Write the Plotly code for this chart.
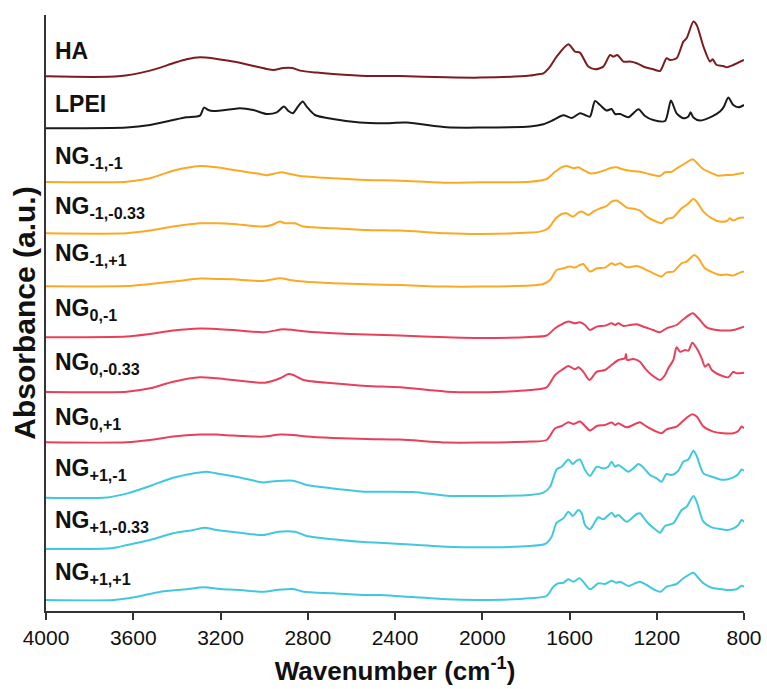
import plotly.graph_objects as go

# ---------------- data ----------------
names = ["HA", "LPEI", "NG<sub>-1,-1</sub>", "NG<sub>-1,-0.33</sub>", "NG<sub>-1,+1</sub>",
         "NG<sub>0,-1</sub>", "NG<sub>0,-0.33</sub>", "NG<sub>0,+1</sub>",
         "NG<sub>+1,-1</sub>", "NG<sub>+1,-0.33</sub>", "NG<sub>+1,+1</sub>"]

wn_HA = [4000, 3668, 3523, 3417, 3356, 3294, 3142, 2988, 2958, 2912, 2870, 2835, 2759, 2684, 2530, 2377, 2163, 2010, 1781, 1735,
         1720, 1689, 1659, 1605, 1575, 1552, 1514, 1483, 1445, 1414, 1399, 1381, 1353, 1323, 1292, 1254, 1216, 1185, 1155, 1139,
         1109, 1078, 1063, 1032, 1017, 986, 956, 944, 925, 895, 879, 849, 800]
ab_HA = [0, 0, 5.7, 13, 17, 19, 14.7, 7.3, 6.3, 8.3, 8.3, 5.7, 3.7, 2.3, 0.3, 0.3, -1, -1.3, 0.7, 2.3,
         3, 9.7, 19.7, 32, 24.7, 23.7, 9.7, 7, 9.7, 21.3, 19.7, 21.3, 14.7, 14.7, 13, 9, 7, 5.3, 18, 16.3,
         18, 34.7, 38, 54.7, 51.3, 29.7, 14.7, 17, 11.3, 10.3, 9, 11.3, 16.3]

wn_LPEI = [4000, 3630, 3523, 3417, 3356, 3294, 3276, 3256, 3233, 3142, 3111, 3050, 2988, 2942, 2909, 2889, 2869, 2843, 2823, 2805,
           2767, 2684, 2561, 2454, 2346, 2163, 2010, 1781, 1720, 1674, 1628, 1590, 1552, 1529, 1506, 1483, 1460, 1430, 1407, 1391,
           1368, 1330, 1284, 1254, 1216, 1162, 1135, 1109, 1078, 1055, 1045, 1032, 1002, 948, 910, 892, 872, 849, 826, 800]
ab_LPEI = [0, 0.7, 3.3, 8.3, 11, 12.7, 20.7, 18.3, 17.3, 19.3, 20, 18.3, 14.3, 16, 21.7, 17.3, 15, 22.3, 26.7, 21.7,
           13.3, 9.3, 5.7, 5, 5.7, 1, 0.7, 1.7, 4, 8.3, 13, 10.3, 15, 13.3, 11.7, 27.3, 23.3, 17.7, 19.3, 14.3,
           14.3, 11, 19, 12.3, 8.3, 7.3, 27.7, 15, 10, 11.7, 16, 10.7, 7.7, 11.7, 16.7, 21.7, 30.7, 23.3, 21, 23.3]

wn_m1_m1 = [4000, 3630, 3523, 3417, 3294, 3218, 3142, 3019, 2988, 2922, 2881, 2835, 2684, 2530, 2377, 2163, 2010, 1781, 1705, 1666,
            1636, 1613, 1582, 1559, 1537, 1506, 1475, 1445, 1407, 1384, 1361, 1323, 1277, 1231, 1185, 1162, 1132, 1101, 1075, 1035,
            1017, 986, 956, 918, 879, 849, 800]
ab_m1_m1 = [0, 0.3, 3.7, 11.3, 16, 14.7, 12, 8, 6.7, 9.7, 8, 6, 3.7, 2, 1.3, -0.7, -0.3, 0.3, 3, 10.3,
            14.7, 16, 13.7, 14.7, 12, 8.7, 9.3, 11.3, 14.3, 14.7, 13, 11.3, 10.3, 7.7, 6, 9.7, 10.3, 14.7, 18, 22.7,
            19.3, 12.7, 9.7, 6.3, 7, 7.3, 9.3]

wn_m1_m033 = [4000, 3630, 3523, 3417, 3294, 3218, 3142, 3004, 2965, 2927, 2904, 2858, 2820, 2684, 2530, 2377, 2163, 2010, 1781, 1735,
              1697, 1666, 1636, 1613, 1585, 1559, 1544, 1514, 1491, 1460, 1430, 1407, 1384, 1368, 1338, 1300, 1277, 1246, 1208, 1178,
              1155, 1124, 1086, 1063, 1032, 1017, 986, 948, 910, 879, 864, 849, 826, 800]
ab_m1_m033 = [0, 0, 2.7, 6.7, 10, 10, 9.3, 6.7, 8.3, 11.7, 10, 10, 6.7, 5, 3.3, 2.7, 0, -0.7, 0.7, 1.7,
              5, 14, 19.3, 20, 16.7, 20.7, 21.7, 18.3, 21.7, 25, 27.3, 31.7, 32.7, 30.7, 25.7, 24.3, 22.7, 16.7, 12.3, 10,
              14.3, 16, 25, 28.3, 34.3, 31.7, 21.7, 15, 11.7, 12.3, 15, 12.7, 15, 15.7]

wn_m1_p1 = [4000, 3630, 3523, 3417, 3294, 3218, 3142, 3004, 2927, 2881, 2820, 2684, 2530, 2377, 2163, 2010, 1781, 1720, 1689, 1659,
            1628, 1598, 1575, 1552, 1537, 1506, 1475, 1437, 1407, 1391, 1368, 1338, 1292, 1262, 1216, 1178, 1155, 1124, 1086, 1063,
            1028, 1009, 979, 941, 910, 879, 849, 818, 800]
ab_m1_p1 = [0, 0.3, 2.3, 4.7, 7.7, 7.3, 7, 5.3, 8, 6.3, 4.7, 3, 2, 1.3, -0.3, -0.3, 0.7, 2.3, 6.3, 16.3,
            18, 19.7, 18.7, 21.3, 22.3, 14.7, 18, 18.7, 23, 21.3, 23, 19, 20.3, 18, 13, 9.7, 14, 14.7, 23, 24.7,
            31.3, 28, 18, 13.7, 11.3, 11.7, 10.7, 13.7, 14.7]

wn_0_m1 = [4000, 3630, 3523, 3417, 3294, 3218, 3142, 3004, 2912, 2866, 2805, 2684, 2530, 2377, 2163, 2010, 1781, 1705, 1666, 1636,
           1605, 1575, 1552, 1529, 1506, 1475, 1437, 1407, 1391, 1376, 1353, 1323, 1292, 1254, 1216, 1185, 1155, 1109, 1078, 1035,
           1009, 971, 925, 879, 849, 800]
ab_0_m1 = [0, 0.7, 3.3, 6.7, 8.7, 8.3, 7.3, 5, 8, 7.3, 5.7, 4, 2.7, 1.7, 0, -0.7, 0.3, 1.8, 9, 13,
           15.7, 14, 15, 12.3, 7.3, 10.7, 11.7, 14, 12.3, 14, 11.3, 12.3, 13, 10, 7.3, 5, 9, 12.3, 18, 24,
           19, 10, 7.3, 6.7, 7.3, 10.7]

wn_0_m033 = [4000, 3630, 3523, 3417, 3294, 3218, 3142, 2996, 2927, 2889, 2866, 2820, 2684, 2530, 2377, 2163, 2010, 1781, 1705, 1666,
             1636, 1605, 1575, 1559, 1537, 1509, 1475, 1437, 1407, 1376, 1346, 1341, 1336, 1307, 1277, 1254, 1223, 1185, 1162, 1147,
             1124, 1109, 1093, 1070, 1055, 1037, 1017, 994, 979, 963, 948, 910, 872, 849, 834, 800]
ab_0_m033 = [0, 0.3, 3.7, 10.3, 14.7, 13.7, 12, 9.3, 13.7, 18, 17, 12, 8.7, 6, 4.7, 0.3, -0.3, 2, 4.7, 17,
             22, 26, 22.7, 24.7, 20.3, 12, 20.3, 22, 27, 32, 33.7, 38, 32, 33, 30.3, 23.7, 17, 12, 17, 23.7,
             32, 44.7, 40.3, 42, 41.3, 49.3, 43.7, 33.7, 25.3, 28, 22, 17, 14.7, 20.3, 18.7, 19.3]

wn_0_p1 = [4000, 3630, 3523, 3417, 3294, 3218, 3142, 3004, 2927, 2866, 2805, 2684, 2530, 2377, 2163, 2010, 1781, 1705, 1666, 1636,
           1605, 1582, 1552, 1529, 1506, 1475, 1437, 1407, 1391, 1376, 1338, 1292, 1277, 1246, 1208, 1178, 1155, 1109, 1078, 1037,
           1017, 986, 941, 895, 849, 826, 811, 800]
ab_0_p1 = [0, 0, 2.3, 5.7, 7.7, 7.7, 6.7, 5.7, 7.7, 7.3, 5.7, 4.3, 3.3, 2.7, -0.3, -0.3, 0.7, 2.3, 14, 16.3,
           20, 18.3, 20.7, 16.3, 11.7, 16.3, 17.3, 19.7, 17.3, 19, 15, 19, 20, 15.7, 11.3, 9, 13, 15.7, 21.7, 28,
           25.7, 15.7, 10.7, 9, 9, 11.3, 15.7, 14]

wn_p1_m1 = [4000, 3719, 3627, 3523, 3417, 3325, 3264, 3203, 3111, 3004, 2942, 2866, 2805, 2684, 2530, 2469, 2316, 2163, 2010, 1781,
            1720, 1689, 1659, 1636, 1605, 1585, 1567, 1552, 1529, 1506, 1475, 1445, 1422, 1407, 1391, 1376, 1353, 1330, 1307, 1284,
            1262, 1231, 1200, 1178, 1155, 1132, 1101, 1078, 1055, 1032, 1017, 986, 948, 933, 910, 879, 849, 826, 811, 800]
ab_p1_m1 = [0, 0.3, 4.3, 11.7, 20, 24.3, 26, 23.7, 20.3, 15.3, 16.7, 17, 12.7, 9.3, 6, 6, 5.7, 2, 1.7, 2.7,
            5, 11, 28.3, 31, 38.3, 33.7, 37, 38.3, 27.7, 21.7, 31, 29.3, 31, 36, 31, 32.7, 29.3, 26, 29.3, 33.7,
            30.3, 22.7, 19.3, 16, 23.7, 22.7, 27, 36, 38.3, 47, 41.7, 24.3, 21, 20, 18.3, 18.3, 20.3, 23.7, 28.3, 27]

wn_p1_m033 = [4000, 3703, 3627, 3523, 3417, 3325, 3271, 3218, 3111, 3004, 2935, 2858, 2805, 2684, 2530, 2469, 2163, 2010, 1781, 1712,
              1682, 1659, 1628, 1605, 1585, 1559, 1544, 1529, 1506, 1468, 1445, 1407, 1391, 1376, 1338, 1292, 1277, 1246, 1208, 1185,
              1162, 1124, 1086, 1063, 1032, 1017, 986, 948, 910, 879, 849, 826, 811, 800]
ab_p1_m033 = [0, 0.7, 4, 9, 15.7, 19, 21.3, 19, 16.3, 14, 17.3, 17.3, 13, 9.7, 6.7, 6.3, 2.3, 1.7, 3, 5,
              12.3, 26.3, 30.7, 37.3, 33, 39, 35.7, 24, 19.7, 31.7, 29.7, 36.3, 32.3, 34, 27.3, 35, 35.7, 27.3, 19.7, 16.3,
              23, 25.7, 39, 42.3, 53, 47.3, 27.3, 21.7, 20, 19, 20.7, 24, 29, 27.3]

wn_p1_p1 = [4000, 3688, 3596, 3474, 3356, 3280, 3203, 3111, 3004, 2942, 2866, 2820, 2684, 2530, 2469, 2163, 2010, 1781, 1705, 1674,
            1651, 1628, 1605, 1582, 1555, 1537, 1506, 1468, 1437, 1407, 1387, 1368, 1330, 1292, 1277, 1246, 1208, 1182, 1155, 1109,
            1078, 1032, 1017, 986, 948, 910, 879, 834, 811, 800]
ab_p1_p1 = [0, 0, 2.7, 8.3, 10.7, 12.7, 11, 10, 8.3, 10, 11, 8.3, 6.7, 5, 5, 0.7, 0, 1.7, 4, 13.3,
            16.7, 17.3, 20.7, 18.3, 21.7, 18.3, 10.7, 16.7, 16, 19.3, 17.3, 18.3, 14, 17.3, 18.3, 15, 10, 8.3, 13.3, 16,
            21.7, 27.3, 24, 16.7, 12.3, 11, 10, 10.7, 14.3, 13.3]

x_ticks = [4000, 3600, 3200, 2800, 2400, 2000, 1600, 1200, 800]

# ---------------- layout / style ----------------
wavenumbers = [wn_HA, wn_LPEI, wn_m1_m1, wn_m1_m033, wn_m1_p1, wn_0_m1, wn_0_m033, wn_0_p1, wn_p1_m1, wn_p1_m033, wn_p1_p1]
absorb = [ab_HA, ab_LPEI, ab_m1_m1, ab_m1_m033, ab_m1_p1, ab_0_m1, ab_0_m033, ab_0_p1, ab_p1_m1, ab_p1_m033, ab_p1_p1]
stack_offsets = [534.7, 482.7, 429, 377.7, 324.7, 273.7, 219, 168.7, 113.3, 62, 11]
label_y = [560.5, 507.5, 453.5, 404, 356.5, 301.5, 248, 193, 142, 90, 38]

colors = ["#7d1c1f", "#1a1a1a", "#fba924", "#fba924", "#fba924",
          "#e8405a", "#e8405a", "#e8405a", "#42c8dd", "#42c8dd", "#42c8dd"]

FONT = "Arial, 'Liberation Sans', Helvetica, sans-serif"

fig = go.Figure()
for name, wn, ab, off, col in zip(names, wavenumbers, absorb, stack_offsets, colors):
    fig.add_trace(go.Scatter(x=wn, y=[off + v for v in ab], mode="lines",
                             line=dict(color=col, width=2, shape="spline", smoothing=0.7),
                             name=name, showlegend=False))

for name, ly in zip(names, label_y):
    fig.add_annotation(x=3968, y=ly, xref="x", yref="y", text="<b>" + name + "</b>",
                       showarrow=False, xanchor="left", yanchor="middle",
                       font=dict(family=FONT, size=23, color="#111"))

fig.update_layout(
    width=767, height=689,
    margin=dict(l=46, r=23, t=15, b=78, autoexpand=False),
    paper_bgcolor="white", plot_bgcolor="white",
    font=dict(family=FONT, color="#111"),
    xaxis=dict(range=[4000, 800], tickvals=x_ticks, ticktext=[str(t) for t in x_ticks],
               showline=True, linecolor="#333", linewidth=1.5, mirror=False,
               ticks="outside", ticklen=7, tickwidth=1.5, tickcolor="#333",
               tickfont=dict(size=21, family=FONT, color="#111"), showgrid=False, zeroline=False,
               title=dict(text="<b>Wavenumber (cm<sup>-1</sup>)</b>", font=dict(size=26, family=FONT, color="#111"),
                          standoff=14),
               automargin=False),
    yaxis=dict(range=[0, 596], showline=True, linecolor="#333", linewidth=1.5,
               showticklabels=False, ticks="", showgrid=False, zeroline=False,
               title=dict(text="<b>Absorbance (a.u.)</b>", font=dict(size=30, family=FONT, color="#111"),
                          standoff=0),
               automargin=False),
)

fig.write_html("out.html")
